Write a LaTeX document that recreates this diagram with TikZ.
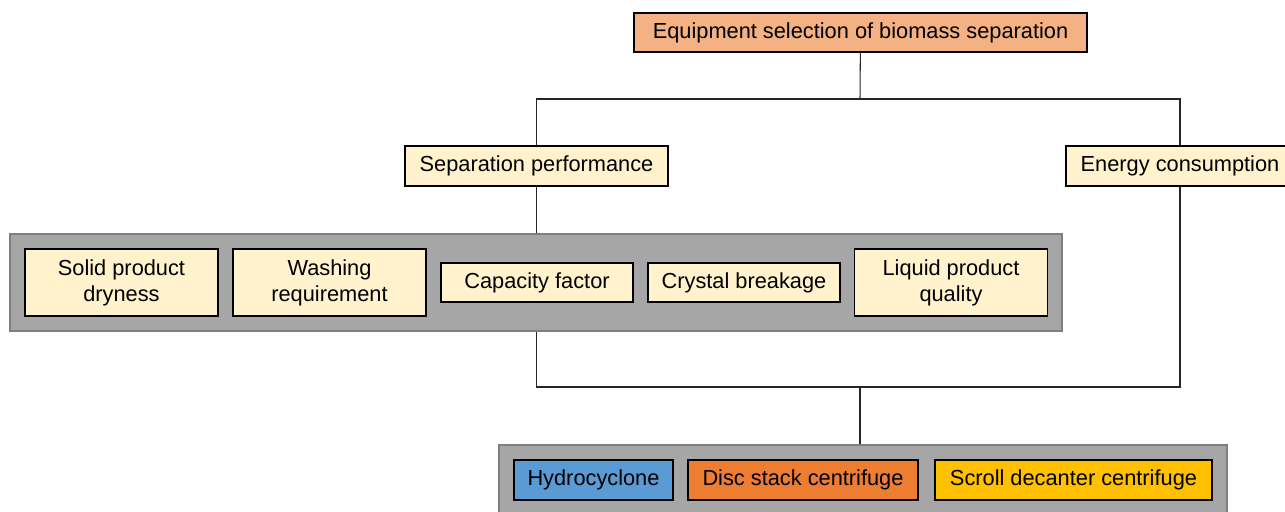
\documentclass[tikz,border=0pt]{standalone}
\usepackage{fontspec}
\setmainfont{Liberation Sans}
\usepackage{xcolor}
\usetikzlibrary{positioning,fit,backgrounds}

\definecolor{topfill}{HTML}{F4B183}
\definecolor{critfill}{HTML}{FFF2CC}
\definecolor{groupfill}{HTML}{A6A6A6}
\definecolor{groupline}{HTML}{7F7F7F}
\definecolor{hydrofill}{HTML}{5B9BD5}
\definecolor{discfill}{HTML}{ED7D31}
\definecolor{scrollfill}{HTML}{FFC000}

\begin{document}
\begin{tikzpicture}[
  x=0.02cm, y=-0.02cm,
  every node/.style={font=\fontsize{12.4}{14.8}\selectfont},
  mainbox/.style={draw, line width=0.8pt, align=center, inner sep=0pt, fill=topfill, minimum width=9.06cm, minimum height=0.78cm},
  critbox/.style={draw, line width=0.8pt, align=center, inner sep=0pt, fill=critfill, minimum height=0.8cm},
  subbox/.style={draw, line width=0.8pt, align=center, inner sep=0pt, fill=critfill, minimum width=3.86cm, minimum height=1.34cm},
  thinbox/.style={subbox, minimum width=3.84cm, minimum height=0.78cm},
  unitbox/.style={draw, line width=0.8pt, align=center, inner sep=0pt, minimum height=0.8cm},
  groupbox/.style={draw=groupline, line width=1pt, fill=groupfill, inner sep=0.28cm},
  link/.style={line width=0.6pt, draw=black!85}
]
\useasboundingbox (0,0) rectangle (1285,511);

\node[mainbox] (goal) at (860.5,32.5) {Equipment selection of biomass separation};
\node[critbox, minimum width=5.26cm] (sep) at (536.5,166) {Separation performance};
\node[critbox, minimum width=4.56cm] (energy) at (1180,166) {Energy consumption};

% separation performance criteria
\node[subbox] (dry) at (121.5,282.5) {Solid product\\dryness};
\node[subbox] (wash) at (329.5,282.5) {Washing\\requirement};
\node[thinbox] (cap) at (537,282.5) {Capacity factor};
\node[thinbox] (crys) at (744,282.5) {Crystal breakage};
\node[subbox] (liq) at (951,282.5) {Liquid product\\quality};

% candidate equipment
\node[unitbox, fill=hydrofill, minimum width=3.18cm] (hydro) at (593.5,480) {Hydrocyclone};
\node[unitbox, fill=discfill, minimum width=4.6cm] (disc) at (803,480) {Disc stack centrifuge};
\node[unitbox, fill=scrollfill, minimum width=5.54cm] (scroll) at (1073.5,480) {Scroll decanter centrifuge};

\begin{scope}[on background layer]
  \node[groupbox, fit=(dry) (liq)] (criteria) {};
  \node[groupbox, fit=(hydro) (scroll)] (units) {};
\end{scope}

\coordinate (split) at (860,99);
\coordinate (merge) at (860,387);

\draw[link] (goal) -- (split);
\draw[link] (sep.north) |- (split) -| (energy.north);
\draw[link] (sep.south) -- (sep.south |- criteria.north);
\draw[link] (sep.south |- criteria.south) |- (merge) -| (energy.south);
\draw[link] (merge) -- (merge |- units.north);
\end{tikzpicture}
\end{document}
